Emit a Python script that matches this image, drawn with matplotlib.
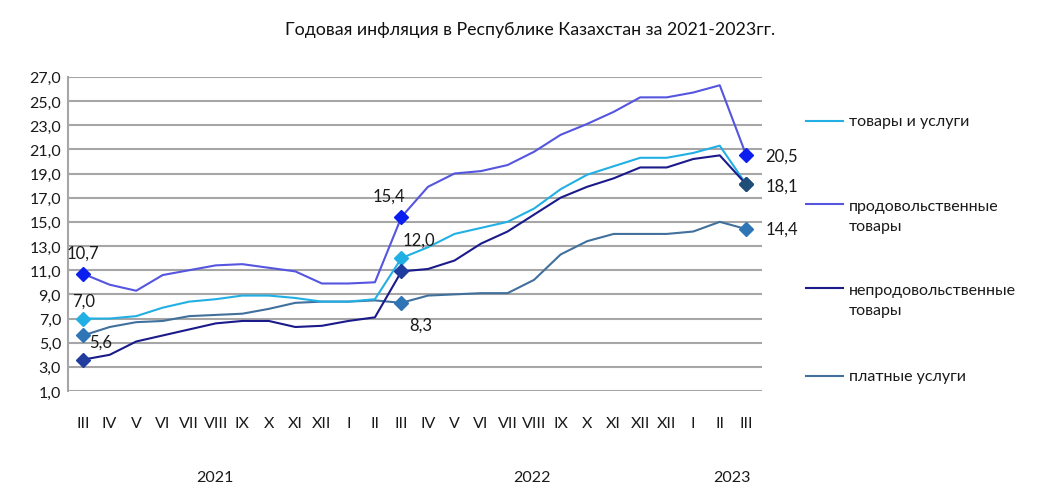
import matplotlib
matplotlib.use("Agg")
import matplotlib.pyplot as plt
from matplotlib.lines import Line2D
from matplotlib.transforms import blended_transform_factory

plt.rcParams['font.family'] = ['Lato', 'DejaVu Sans']

months = ["III", "IV", "V", "VI", "VII", "VIII", "IX", "X", "XI", "XII", "I", "II",
          "III", "IV", "V", "VI", "VII", "VIII", "IX", "X", "XI", "XII", "XII", "I", "II", "III"]
years = ["2021", "2022", "2023"]
year_pos = [4.98, 16.93, 24.47]

goods_services = [7.0, 7.0, 7.2, 7.9, 8.4, 8.6, 8.9, 8.9, 8.7, 8.4, 8.4, 8.6,
                  12.0, 12.9, 14.0, 14.5, 15.0, 16.1, 17.7, 18.9, 19.6, 20.3, 20.3, 20.7, 21.3, 18.1]
food = [10.7, 9.8, 9.3, 10.6, 11.0, 11.4, 11.5, 11.2, 10.9, 9.9, 9.9, 10.0,
        15.4, 17.9, 19.0, 19.2, 19.7, 20.8, 22.2, 23.1, 24.1, 25.3, 25.3, 25.7, 26.3, 20.5]
nonfood = [3.6, 4.0, 5.1, 5.6, 6.1, 6.6, 6.8, 6.8, 6.3, 6.4, 6.8, 7.1,
           10.9, 11.1, 11.8, 13.2, 14.2, 15.6, 17.0, 17.9, 18.6, 19.5, 19.5, 20.2, 20.5, 18.1]
services = [5.6, 6.3, 6.7, 6.8, 7.2, 7.3, 7.4, 7.8, 8.3, 8.4, 8.4, 8.5,
            8.3, 8.9, 9.0, 9.1, 9.1, 10.2, 12.3, 13.4, 14.0, 14.0, 14.0, 14.2, 15.0, 14.4]

names = ["товары и услуги", "продовольственные\nтовары", "непродовольственные\nтовары", "платные услуги"]
marker_idx = [0, 12, 25]

series = [
    (goods_services, "#22B0E4", ["#22B0E4", "#22B0E4", "#1F4E79"]),
    (food, "#5555E0", ["#0A1EF0"] * 3),
    (nonfood, "#1A1A8A", ["#1F3C9E", "#1F3C9E", "#1F4E79"]),
    (services, "#41709C", ["#2E75B6"] * 3),
]

fig = plt.figure(figsize=(10.37, 5.02), dpi=100)
ax = fig.add_axes([0.0656, 0.219, 0.6694, 0.626])

x = list(range(len(months)))
for k in [3, 0, 1, 2]:
    vals, lc, mcs = series[k]
    ax.plot(x, vals, color=lc, lw=1.5, zorder=3)
for k in [3, 0, 2, 1]:
    vals, lc, mcs = series[k]
    for j, i in enumerate(marker_idx):
        ax.plot(i, vals[i], marker='D', ms=7.5, color=mcs[j], ls='none', zorder=4)

def fmt(v):
    return f"{v:.1f}".replace(".", ",")

P = 0.72  # px -> pt
lab_kw = dict(fontsize=12, color="#1a1a1a", zorder=5, textcoords='offset points', va='center')

def lab(vals, i, dx, dy, ha='center'):
    ax.annotate(fmt(vals[i]), (i, vals[i]), xytext=(dx * P, dy * P), ha=ha, **lab_kw)

lab(food, 0, 0, 21)
lab(food, 12, -13, 21)
lab(food, 25, 19, 0, ha='left')
lab(goods_services, 0, 0, 18)
lab(goods_services, 12, 17, 18)
lab(goods_services, 25, 19, -1, ha='left')
lab(services, 0, 17, -6)
lab(services, 12, 19, -22)
lab(services, 25, 19, 0, ha='left')

ax.set_ylim(1, 27)
ax.set_xlim(-0.57, 25.6)
yt = list(range(1, 28, 2))
ax.set_yticks(yt)
ax.set_yticklabels([fmt(v) for v in yt], fontsize=11.5)
ax.set_xticks(x)
ax.set_xticklabels(months, fontsize=11.5)
ax.tick_params(axis='both', length=0, colors="#1a1a1a")
ax.tick_params(axis='x', pad=18)
ax.tick_params(axis='y', pad=5)
ax.grid(axis='y', color="#A6A6A6", lw=1.5)
ax.set_axisbelow(True)
for s in ['top', 'right', 'bottom']:
    ax.spines[s].set_visible(False)
ax.spines['left'].set_color("#A6A6A6")
ax.spines['left'].set_linewidth(1.5)

tr = blended_transform_factory(ax.transData, fig.transFigure)
for yname, xp in zip(years, year_pos):
    ax.text(xp, 1 - 478 / 502, yname, transform=tr, ha='center', va='center', fontsize=11.5, color="#1a1a1a")

fig.text(530 / 1037, 1 - 30 / 502, "Годовая инфляция в Республике Казахстан за 2021-2023гг.",
         ha='center', va='center', fontsize=12.8, color="#111111")

leg_y = [122, 217, 301, 377]
leg_colors = ["#22B0E4", "#5555E0", "#1A1A8A", "#41709C"]
for name, yy, c in zip(names, leg_y, leg_colors):
    first_line_y = yy if "\n" not in name else yy - 12
    fy = 1 - first_line_y / 502
    fig.add_artist(Line2D([806 / 1037, 843 / 1037], [fy, fy], color=c, lw=1.5))
    fig.text(849 / 1037, 1 - yy / 502, name, ha='left', va='center', fontsize=11.5,
             color="#1a1a1a", linespacing=1.6)

fig.savefig("out.png", dpi=100)
